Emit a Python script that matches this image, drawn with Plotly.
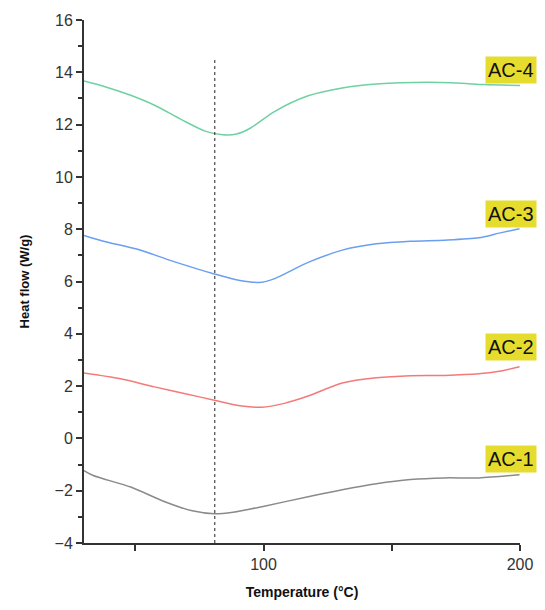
import plotly.graph_objects as go

# Data
ac1_x = [30, 33.6, 48.2, 61.5, 72.2, 80.8, 88.1, 99.4, 117.4, 130.7, 144, 157.3, 170.6, 183.9, 199.8]
ac1_y = [-1.23, -1.42, -1.86, -2.42, -2.77, -2.88, -2.82, -2.61, -2.23, -1.96, -1.73, -1.57, -1.51, -1.51, -1.39]

ac2_x = [30, 44.2, 57.5, 69.5, 80.8, 90.8, 99.4, 108.1, 117.4, 130.7, 144, 157.3, 170.6, 183.9, 193.2, 199.8]
ac2_y = [2.50, 2.28, 1.97, 1.71, 1.46, 1.25, 1.19, 1.34, 1.62, 2.12, 2.32, 2.40, 2.41, 2.47, 2.59, 2.74]

ac3_x = [30, 37.6, 50.9, 64.2, 80.8, 90.8, 99.4, 104.1, 117.4, 130.7, 144, 157.3, 170.6, 183.9, 191.9, 199.8]
ac3_y = [7.76, 7.54, 7.23, 6.79, 6.29, 6.04, 5.97, 6.10, 6.73, 7.20, 7.44, 7.54, 7.58, 7.67, 7.85, 8.02]

ac4_x = [30, 37.6, 48.2, 57.5, 68.2, 77.5, 84.1, 89.5, 94.8, 104.1, 117.4, 130.7, 144, 163.9, 177.2, 185.9, 200]
ac4_y = [13.67, 13.47, 13.12, 12.74, 12.18, 11.74, 11.61, 11.64, 11.86, 12.49, 13.10, 13.40, 13.55, 13.62, 13.58, 13.53, 13.50]

series_names = ["AC-1", "AC-2", "AC-3", "AC-4"]
label_y = [-0.80, 3.48, 8.60, 14.08]
marker_x = 81
marker_top = 14.53

x_ticks = [100, 200]
y_ticks = [-4, -2, 0, 2, 4, 6, 8, 10, 12, 14, 16]

colors = ["#8a8a8a", "#f47a7a", "#6a9ff0", "#6fd1a0"]
xs = [ac1_x, ac2_x, ac3_x, ac4_x]
ys = [ac1_y, ac2_y, ac3_y, ac4_y]

fig = go.Figure()
for name, x, y, c in zip(series_names, xs, ys, colors):
    fig.add_trace(go.Scatter(x=x, y=y, mode="lines", name=name,
                             line=dict(color=c, width=1.5, shape="spline", smoothing=0.8)))

fig.add_trace(go.Scatter(x=[marker_x, marker_x], y=[-4, marker_top], mode="lines",
                         line=dict(color="#222222", width=1, dash="dot"), showlegend=False))

for name, ly in zip(series_names, label_y):
    fig.add_annotation(x=196.3, y=ly, xref="x", yref="y", text=name, showarrow=False,
                       font=dict(family="Liberation Sans, Arial", size=20, color="#111111"),
                       bgcolor="#e6dc2e", borderpad=2, xanchor="center", yanchor="middle")

fig.update_layout(
    width=545, height=610,
    margin=dict(l=84, r=17, t=20, b=58),
    paper_bgcolor="white", plot_bgcolor="white",
    showlegend=False,
    font=dict(family="Liberation Sans, Arial", color="#333333"),
)
fig.update_xaxes(range=[30, 200], tickvals=x_ticks, ticks="outside", ticklen=6, tickwidth=2,
                 tickcolor="#333333", showline=True, linecolor="#333333", linewidth=2,
                 showgrid=False, zeroline=False, tickfont=dict(size=16, color="#333333"),
                 minor=dict(tickvals=[50, 150], ticks="outside", ticklen=6, tickwidth=2, tickcolor="#333333"),
                 title=dict(text="<b>Temperature (°C)</b>", font=dict(size=14, color="#111111"), standoff=15))
fig.update_yaxes(range=[-4, 16], tickvals=y_ticks, ticks="outside", ticklen=6, tickwidth=2,
                 tickcolor="#333333", showline=True, linecolor="#333333", linewidth=2,
                 showgrid=False, zeroline=False, tickfont=dict(size=16, color="#333333"),
                 minor=dict(tickvals=[-3, -1, 1, 3, 5, 7, 9, 11, 13, 15], ticks="outside",
                            ticklen=4, tickwidth=2, tickcolor="#333333"),
                 title=dict(text="<b>Heat flow (W/g)</b>", font=dict(size=13, color="#111111"), standoff=22))

fig.write_html("out.html", config={"displayModeBar": False},
               post_script="document.body.style.margin='0';document.body.style.overflow='hidden';")
